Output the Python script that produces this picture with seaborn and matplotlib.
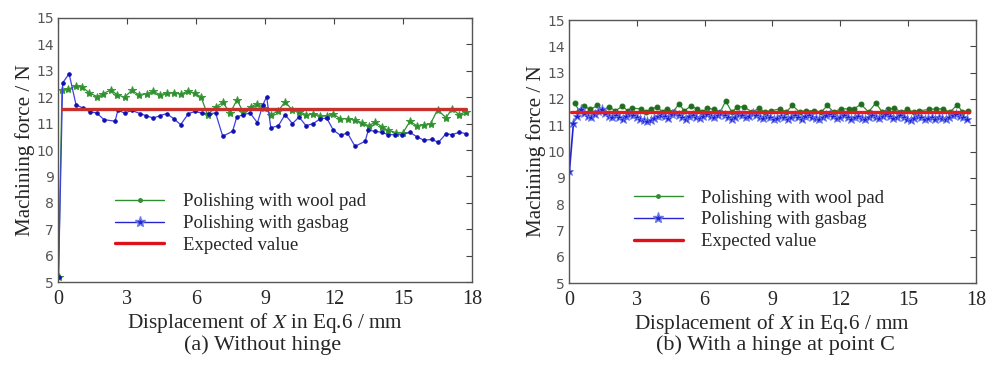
import numpy as np
import pandas as pd
import matplotlib
matplotlib.use("Agg")
import matplotlib.pyplot as plt
from matplotlib.lines import Line2D
import seaborn as sns

sns.set_style("white")
plt.rcParams['font.family'] = ['Liberation Serif', 'DejaVu Serif']
plt.rcParams['mathtext.fontset'] = 'stix'

## (a) without hinge
a_wool_x = [0.02, 0.17, 0.45, 0.78, 1.04, 1.35, 1.7, 1.96, 2.3, 2.57, 2.9, 3.2, 3.5, 3.87, 4.13,
            4.43, 4.74, 5.04, 5.35, 5.65, 5.96, 6.22, 6.5, 6.87, 7.17, 7.48, 7.78, 8.04, 8.39, 8.65,
            8.95, 9.26, 9.57, 9.87, 10.17, 10.48, 10.78, 11.1, 11.4, 11.7, 11.96, 12.26, 12.6, 12.9,
            13.2, 13.5, 13.8, 14.1, 14.35, 14.7, 15.0, 15.3, 15.6, 15.9, 16.2, 16.5, 16.87, 17.13,
            17.43, 17.74]
a_wool_y = [5.2, 12.28, 12.3, 12.43, 12.4, 12.17, 12.02, 12.13, 12.28, 12.09, 12.0, 12.26, 12.1, 12.13, 12.22,
            12.1, 12.15, 12.17, 12.12, 12.23, 12.15, 12.0, 11.34, 11.64, 11.8, 11.4, 11.9, 11.45, 11.64, 11.75,
            11.59, 11.34, 11.47, 11.83, 11.53, 11.45, 11.34, 11.37, 11.3, 11.3, 11.37, 11.19, 11.19, 11.13,
            11.04, 10.92, 11.05, 10.87, 10.74, 10.66, 10.66, 11.08, 10.92, 10.96, 11.0, 11.53, 11.22, 11.57,
            11.34, 11.45]

a_gas_x = [0.02, 0.2, 0.48, 0.78, 1.07, 1.39, 1.68, 2.0, 2.48, 2.6, 2.91, 3.2, 3.57, 3.83, 4.14,
           4.43, 4.72, 5.04, 5.33, 5.67, 5.96, 6.25, 6.58, 6.85, 7.16, 7.59, 7.77, 8.06, 8.35, 8.67,
           8.9, 9.07, 9.25, 9.58, 9.87, 10.19, 10.48, 10.78, 11.1, 11.39, 11.68, 11.97, 12.29, 12.58,
           12.91, 13.35, 13.49, 13.78, 14.07, 14.36, 14.67, 14.96, 15.3, 15.6, 15.91, 16.25, 16.54,
           16.87, 17.12, 17.45, 17.74]
a_gas_y = [5.2, 12.54, 12.89, 11.72, 11.59, 11.45, 11.4, 11.15, 11.09, 11.5, 11.4, 11.5, 11.38, 11.3, 11.21,
           11.3, 11.38, 11.18, 10.96, 11.38, 11.46, 11.4, 11.38, 11.4, 10.52, 10.71, 11.25, 11.34, 11.4, 11.03,
           11.7, 12.02, 10.84, 10.92, 11.34, 11.0, 11.25, 10.92, 11.0, 11.18, 11.21, 10.75, 10.55, 10.65,
           10.14, 10.33, 10.75, 10.71, 10.67, 10.58, 10.58, 10.58, 10.67, 10.5, 10.37, 10.4, 10.29,
           10.62, 10.58, 10.67, 10.62]

a_expected_x = [0.17, 17.74]
a_expected_y = [11.55, 11.55]

## (b) with a hinge at point C
b_wool_x = [0.25, 0.45, 0.66, 0.95, 1.25, 1.5, 1.77, 2.05, 2.36, 2.6, 2.8, 3.17, 3.4, 3.61, 3.91,
            4.1, 4.35, 4.6, 4.87, 5.1, 5.38, 5.68, 5.9, 6.12, 6.42, 6.7, 6.93, 7.2, 7.45, 7.74,
            8.1, 8.41, 8.65, 8.92, 9.34, 9.6, 9.88, 10.2, 10.47, 10.84, 11.15, 11.43, 11.7, 12.02,
            12.39, 12.61, 12.91, 13.25, 13.57, 13.85, 14.09, 14.38, 14.7, 14.97, 15.25, 15.49, 15.93,
            16.22, 16.52, 16.85, 17.18, 17.4, 17.63]
b_wool_y = [11.85, 11.55, 11.72, 11.6, 11.75, 11.58, 11.7, 11.55, 11.72, 11.55, 11.65, 11.62, 11.52, 11.6, 11.7,
            11.52, 11.62, 11.52, 11.8, 11.55, 11.72, 11.62, 11.5, 11.65, 11.6, 11.52, 11.92, 11.5, 11.7, 11.7,
            11.5, 11.65, 11.5, 11.55, 11.62, 11.5, 11.75, 11.5, 11.55, 11.55, 11.5, 11.75, 11.5, 11.62,
            11.62, 11.62, 11.8, 11.5, 11.85, 11.5, 11.6, 11.65, 11.5, 11.6, 11.5, 11.55, 11.6,
            11.62, 11.62, 11.5, 11.78, 11.5, 11.55]

b_gas_start = [0.02, 9.25]
b_gas_y = [11.1, 11.35, 11.6, 11.45, 11.35, 11.3, 11.42, 11.55, 11.62, 11.48, 11.35, 11.3,
           11.38, 11.3, 11.25, 11.35, 11.42, 11.38, 11.3, 11.22, 11.18, 11.15, 11.2, 11.28, 11.35,
           11.4, 11.35, 11.28, 11.42, 11.45, 11.38, 11.3, 11.25, 11.35, 11.4, 11.32, 11.28, 11.36,
           11.42, 11.35, 11.3, 11.38, 11.45, 11.4, 11.3, 11.25, 11.33, 11.42, 11.38, 11.3, 11.35,
           11.45, 11.4, 11.32, 11.28, 11.35, 11.3, 11.22, 11.28, 11.36, 11.3, 11.25, 11.32, 11.38,
           11.3, 11.25, 11.35, 11.4, 11.33, 11.28, 11.22, 11.3, 11.38, 11.42, 11.35, 11.28, 11.33,
           11.4, 11.32, 11.25, 11.3, 11.36, 11.28, 11.22, 11.3, 11.38, 11.33, 11.27, 11.35, 11.42,
           11.35, 11.28, 11.32, 11.4, 11.33, 11.25, 11.2, 11.28, 11.35, 11.3, 11.22, 11.28, 11.3,
           11.25, 11.32, 11.28, 11.22, 11.3, 11.38, 11.42, 11.35, 11.3, 11.25]
b_gas_x = [b_gas_start[0]] + list(np.round(np.linspace(0.2, 17.6, len(b_gas_y)), 3))
b_gas_y = [b_gas_start[1]] + b_gas_y

b_expected_x = [0.1, 17.7]
b_expected_y = [11.52, 11.52]

labels = ["Polishing with wool pad", "Polishing with gasbag", "Expected value"]
xticks = [0, 3, 6, 9, 12, 15, 18]
yticks = [5, 6, 7, 8, 9, 10, 11, 12, 13, 14, 15]

fig = plt.figure(figsize=(9.94, 3.75), dpi=100)
ax1 = fig.add_axes([0.0584, 0.248, 0.4165, 0.704])
ax2 = fig.add_axes([0.5724, 0.2453, 0.4095, 0.7013])

green = "#2f8f2f"
blue = "#2424d0"

# panel a
sns.lineplot(x=a_wool_x, y=a_wool_y, ax=ax1, color=green, lw=0.9, marker="*", ms=6,
             mec="#3a9a3a", mfc="#2f8f2f", sort=False)
sns.lineplot(x=a_gas_x, y=a_gas_y, ax=ax1, color="#4040e0", lw=0.9, marker="o", ms=2.5,
             mec="#1010b0", mfc="#1010b0", sort=False)
sns.lineplot(x=a_expected_x, y=a_expected_y, ax=ax1, color="#c8302c", lw=2.4)

# panel b
sns.lineplot(x=b_wool_x, y=b_wool_y, ax=ax2, color=green, lw=0.9, marker="o", ms=3.5,
             mec="#1e6e1e", mfc="#1e6e1e", sort=False)
sns.lineplot(x=b_gas_x, y=b_gas_y, ax=ax2, color="#2020d8", lw=1.2, marker="*", ms=6.5,
             mec="#6a7ae8", mfc="#2020d8", mew=0.6, sort=False)
sns.lineplot(x=b_expected_x, y=b_expected_y, ax=ax2, color="#f01818", lw=2.4)

for ax in (ax1, ax2):
    ax.set_xlim(0, 18)
    ax.set_ylim(5, 15)
    ax.set_xticks(xticks)
    ax.set_yticks(yticks)
    ax.tick_params(axis="both", direction="in", length=4, width=0.8, color="#444444",
                   top=True, right=True)
    ax.tick_params(axis="x", labelsize=14.5, pad=6)
    ax.tick_params(axis="y", labelsize=10, labelcolor="#555555", pad=3)
    for lab in ax.get_yticklabels():
        lab.set_family(["DejaVu Sans"])
    for s in ax.spines.values():
        s.set_color("#555555")
        s.set_linewidth(1.0)
    ax.set_xlabel("Displacement of $X$ in Eq.6 / mm", fontsize=15.3, labelpad=1)
    ax.set_ylabel("Machining force / N", fontsize=15.2, labelpad=1)

handles_a = [Line2D([], [], color=green, lw=1, marker=".", ms=5),
             Line2D([], [], color=blue, lw=1, marker="*", ms=8, mec="#6a7ae8"),
             Line2D([], [], color="#e0101a", lw=2.4)]
ax1.legend(handles_a, labels, loc="upper left", bbox_to_anchor=(0.098, 0.40), frameon=False,
           fontsize=13.5, handlelength=2.6, handletextpad=1.0, labelspacing=0.25)
handles_b = [Line2D([], [], color=green, lw=1, marker=".", ms=5),
             Line2D([], [], color=blue, lw=1, marker="*", ms=8, mec="#6a7ae8"),
             Line2D([], [], color="#e0101a", lw=2.4)]
ax2.legend(handles_b, labels, loc="upper left", bbox_to_anchor=(0.118, 0.42), frameon=False,
           fontsize=13.5, handlelength=2.6, handletextpad=1.0, labelspacing=0.25)

fig.text(0.264, 0.08, "(a) Without hinge", ha="center", va="center", fontsize=16)
fig.text(0.78, 0.08, "(b) With a hinge at point C", ha="center", va="center", fontsize=16)

fig.savefig("out.png", dpi=100)
